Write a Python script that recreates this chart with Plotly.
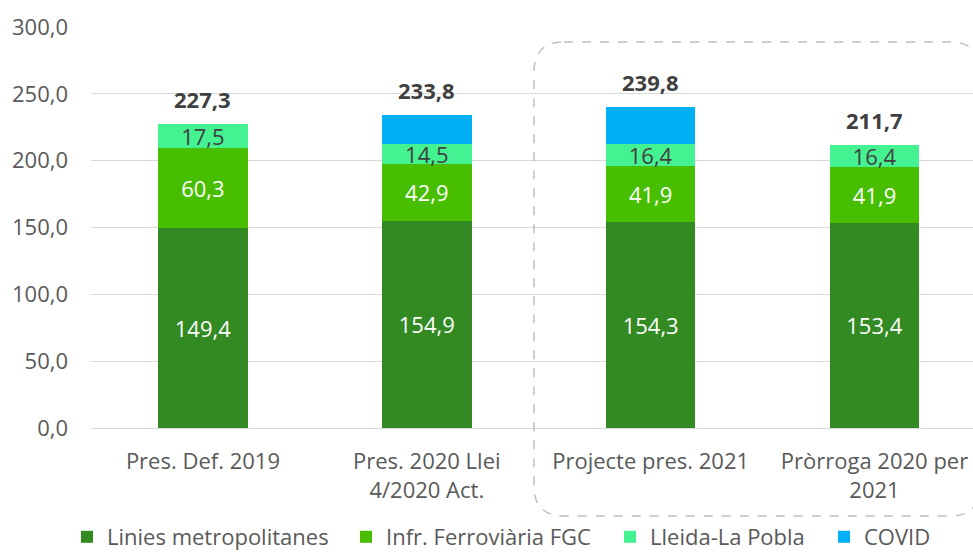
import plotly.graph_objects as go

categories = ["Pres. Def. 2019", "Pres. 2020 Llei<br>4/2020 Act.", "Projecte pres. 2021", "Pròrroga 2020 per<br>2021"]
linies = [149.4, 154.9, 154.3, 153.4]
infr_fgc = [60.3, 42.9, 41.9, 41.9]
lleida = [17.5, 14.5, 16.4, 16.4]
covid = [0.0, 21.5, 27.2, 0.0]
totals = [227.3, 233.8, 239.8, 211.7]
y_ticks = [0, 50, 100, 150, 200, 250, 300]

FONT = "Open Sans"
FS = 22
def fmt(v):
    return f"{v:.1f}".replace(".", ",")

W, H = 973, 552
PL, PT, PW, PH = 91, 27, 882, 401

def px2paper_x(p):
    return (p - PL) / PW
def px2paper_y(p):
    return (PT + PH - p) / PH

fig = go.Figure()
series = [
    ("Linies metropolitanes", linies, "#338A22", "white", "legend", 88),
    ("Infr. Ferroviària FGC", infr_fgc, "#47BE00", "white", "legend2", 367),
    ("Lleida-La Pobla", lleida, "#45F291", "#404040", "legend3", 631),
    ("COVID", covid, "#00B0F5", "#404040", "legend4", 845),
]
xs = list(range(len(categories)))
legends = {}
for name, vals, color, tcol, leg, lx in series:
    show_text = name != "COVID"
    fig.add_trace(go.Bar(
        x=xs, y=vals, name=name, marker=dict(color=color, line=dict(width=0)),
        width=0.40, legend=leg,
        text=[fmt(v) for v in vals] if show_text else None,
        textposition="inside" if show_text else "none",
        insidetextanchor="middle", textangle=0, constraintext="none",
        textfont=dict(color=tcol, size=FS, family=FONT),
        hoverinfo="skip",
    ))
    legends[leg] = dict(orientation="h", x=px2paper_x(lx - 21), xanchor="left",
                        y=px2paper_y(537), yanchor="middle",
                        font=dict(size=FS, color="#595959", family=FONT),
                        itemwidth=30, bgcolor="rgba(0,0,0,0)")

for i, t in enumerate(totals):
    fig.add_annotation(x=xs[i], y=t, text=f"<b>{fmt(t)}</b>", showarrow=False,
                       yanchor="bottom", yshift=8,
                       font=dict(size=FS, color="#404040", family=FONT))

# dashed rounded rectangle around the 2021 categories
x0, x1 = px2paper_x(534), px2paper_x(980)
yt, yb = px2paper_y(42), px2paper_y(516)
rx, ry = 30 / PW, 30 / PH
path = (f"M {x0+rx},{yt} L {x1-rx},{yt} Q {x1},{yt} {x1},{yt-ry} "
        f"L {x1},{yb+ry} Q {x1},{yb} {x1-rx},{yb} L {x0+rx},{yb} "
        f"Q {x0},{yb} {x0},{yb+ry} L {x0},{yt-ry} Q {x0},{yt} {x0+rx},{yt} Z")
fig.add_shape(type="path", path=path, xref="paper", yref="paper",
              line=dict(color="#BFBFBF", width=1.5, dash="dash"), layer="above")

fig.update_layout(
    barmode="stack",
    width=W, height=H,
    margin=dict(l=PL, r=W - PL - PW, t=PT, b=H - PT - PH, autoexpand=False),
    paper_bgcolor="white", plot_bgcolor="white",
    font=dict(family=FONT, size=FS, color="#595959"),
    showlegend=True,
    xaxis=dict(tickmode="array", tickvals=xs, ticktext=categories,
               range=[-0.5, 3.44], showgrid=False, showline=True, linecolor="#D9D9D9",
               linewidth=1, ticks="", ticklabelstandoff=14,
               tickfont=dict(size=FS, color="#595959", family=FONT)),
    yaxis=dict(range=[0, 300], tickvals=y_ticks, ticktext=[fmt(v) for v in y_ticks],
               showgrid=True, gridcolor="#D9D9D9", gridwidth=1, zeroline=False,
               showline=False, ticks="", ticklabelstandoff=22,
               tickfont=dict(size=FS, color="#595959", family=FONT)),
    **legends,
)

fig.write_html("out.html", config={"displayModeBar": False},
               post_script="document.body.style.margin='0';document.body.style.overflow='hidden';")
